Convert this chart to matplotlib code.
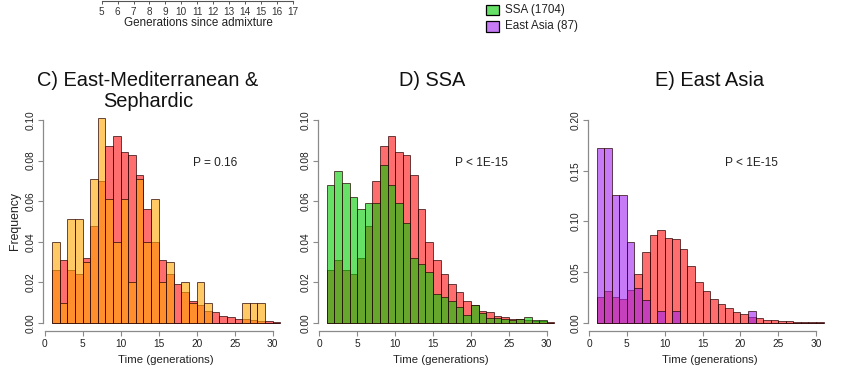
import numpy as np
import matplotlib
matplotlib.use("Agg")
import matplotlib.pyplot as plt
from matplotlib.patches import Rectangle

plt.rcParams['font.family'] = ['Liberation Sans', 'DejaVu Sans']

# ---- data (frequency per 1-generation bin, bins 1..31) ----
bin_edges = list(range(1, 32))
reference_red = [0.026, 0.031, 0.026, 0.024, 0.032, 0.048, 0.070, 0.087, 0.092, 0.084,
                 0.083, 0.073, 0.056, 0.040, 0.031, 0.024, 0.019, 0.015, 0.011, 0.009,
                 0.006, 0.0053, 0.0032, 0.003, 0.0021, 0.002, 0.0013, 0.001, 0.0007, 0.0004]
eastmed_orange = [0.040, 0.010, 0.051, 0.051, 0.030, 0.071, 0.101, 0.061, 0.040, 0.061,
                  0.020, 0.071, 0.040, 0.061, 0.020, 0.030, 0.0, 0.020, 0.010, 0.020,
                  0.010, 0.0, 0.0, 0.0, 0.0, 0.010, 0.010, 0.010, 0.0, 0.0]
ssa_green = [0.068, 0.075, 0.069, 0.062, 0.056, 0.059, 0.059, 0.078, 0.068, 0.059,
             0.049, 0.032, 0.029, 0.025, 0.014, 0.013, 0.011, 0.008, 0.004, 0.009,
             0.005, 0.0025, 0.0022, 0.002, 0.0016, 0.0018, 0.003, 0.0012, 0.0012, 0.0]
eastasia_purple = [0.172, 0.172, 0.126, 0.126, 0.080, 0.034, 0.023, 0.0, 0.0115, 0.0,
                   0.0115, 0.0, 0.0, 0.0, 0.0, 0.0, 0.0, 0.0, 0.0, 0.0,
                   0.0115, 0.0, 0.0, 0.0, 0.0, 0.0, 0.0, 0.0, 0.0, 0.0]

titles = ["C) East-Mediterranean &\nSephardic", "D) SSA", "E) East Asia"]
pvals = ["P = 0.16", "P < 1E-15", "P < 1E-15"]
top_ticks = list(range(5, 18))
legend_labels = ["SSA (1704)", "East Asia (87)"]

RED = (1.0, 0.05, 0.05, 0.6)
ORANGE = (1.0, 0.65, 0.0, 0.6)
GREEN = (0.0, 0.80, 0.0, 0.6)
PURPLE = (0.63, 0.13, 0.94, 0.6)
EDGE = (0.15, 0.0, 0.0, 0.7)

W, H = 850, 381
fig = plt.figure(figsize=(8.5, 3.81), dpi=100)

def fx(px):
    return px / W

def fy(py):
    return 1 - py / H

bottom = fy(331)
top = fy(111.9)
panels = [
    (43.0, 289.4, eastmed_orange, ORANGE, 0.10),
    (317.8, 563.4, ssa_green, GREEN, 0.10),
    (587.5, 832.7, eastasia_purple, PURPLE, 0.20),
]
title_x = [148, 432, 710]

edges = np.array(bin_edges, dtype=float)
lefts = edges[:-1]
for i, (l, r, series, col, ymax) in enumerate(panels):
    ax = fig.add_axes([fx(l), bottom, fx(r) - fx(l), top - bottom])
    ax.bar(lefts, reference_red, width=1.0, align='edge', color=RED,
           edgecolor=EDGE, linewidth=0.7)
    ax.bar(lefts, series, width=1.0, align='edge', color=col,
           edgecolor=EDGE, linewidth=0.7)
    ax.set_xlim(-0.2, 32.2)
    ax.set_ylim(-0.04 * ymax, 1.04 * ymax)
    for s in ['top', 'right']:
        ax.spines[s].set_visible(False)
    for s in ['left', 'bottom']:
        ax.spines[s].set_color('#8a8a8a')
        ax.spines[s].set_linewidth(0.9)
    ax.spines['bottom'].set_bounds(0, 30)
    ax.spines['left'].set_bounds(0, ymax)
    ax.set_xticks([0, 5, 10, 15, 20, 25, 30])
    if ymax == 0.10:
        yt = [0.0, 0.02, 0.04, 0.06, 0.08, 0.10]
    else:
        yt = [0.0, 0.05, 0.10, 0.15, 0.20]
    ax.set_yticks(yt)
    ax.set_yticklabels([f"{v:.2f}" for v in yt], rotation=90, va='center')
    ax.tick_params(axis='both', colors='#8a8a8a', labelcolor='#222222',
                   length=3.5, width=0.8, labelsize=7.3)
    ax.tick_params(axis='y', pad=1.5)
    ax.tick_params(axis='x', pad=2.3)
    ax.set_xlabel("Time (generations)", fontsize=8.2, color='#222222', labelpad=4.5)
    if i == 0:
        ax.set_ylabel("Frequency", fontsize=8.8, color='#222222', labelpad=3.5)
    ax.text(0.61 if i == 0 else 0.56, 0.765, pvals[i], transform=ax.transAxes,
            fontsize=8.6, color='#222222', ha='left', va='center')
    fig.text(fx(title_x[i]), fy(71.5), titles[i], ha='center', va='top',
             fontsize=14.4, color='#111111', linespacing=1.08)

# top fragment axis (cropped part of another panel)
axt = fig.add_axes([fx(101.7), fy(1.0), fx(292.7) - fx(101.7), 0.0005])
axt.set_xlim(5, 17)
axt.set_ylim(0, 1)
for s in ['top', 'right', 'left']:
    axt.spines[s].set_visible(False)
axt.spines['bottom'].set_color('#555555')
axt.spines['bottom'].set_linewidth(0.8)
axt.set_yticks([])
axt.set_xticks(top_ticks)
axt.tick_params(axis='x', length=2.5, width=0.7, colors='#555555',
                labelcolor='#333333', labelsize=7.2, pad=1.5)
fig.text(fx(198), fy(23.3), "Generations since admixture", ha='center', va='center',
         fontsize=8.4, color='#222222')

# legend fragment
for j, (lab, col) in enumerate(zip(legend_labels, [GREEN, PURPLE])):
    y0 = 5 + j * 16.5
    fig.patches.append(Rectangle((fx(485.5), fy(y0 + 10)), fx(13), 10 / H,
                                 transform=fig.transFigure, facecolor=col,
                                 edgecolor='black', linewidth=0.9))
    fig.text(fx(505), fy(y0 + 5), lab, ha='left', va='center', fontsize=8.4,
             color='#222222')

fig.savefig("out.png", dpi=100)
